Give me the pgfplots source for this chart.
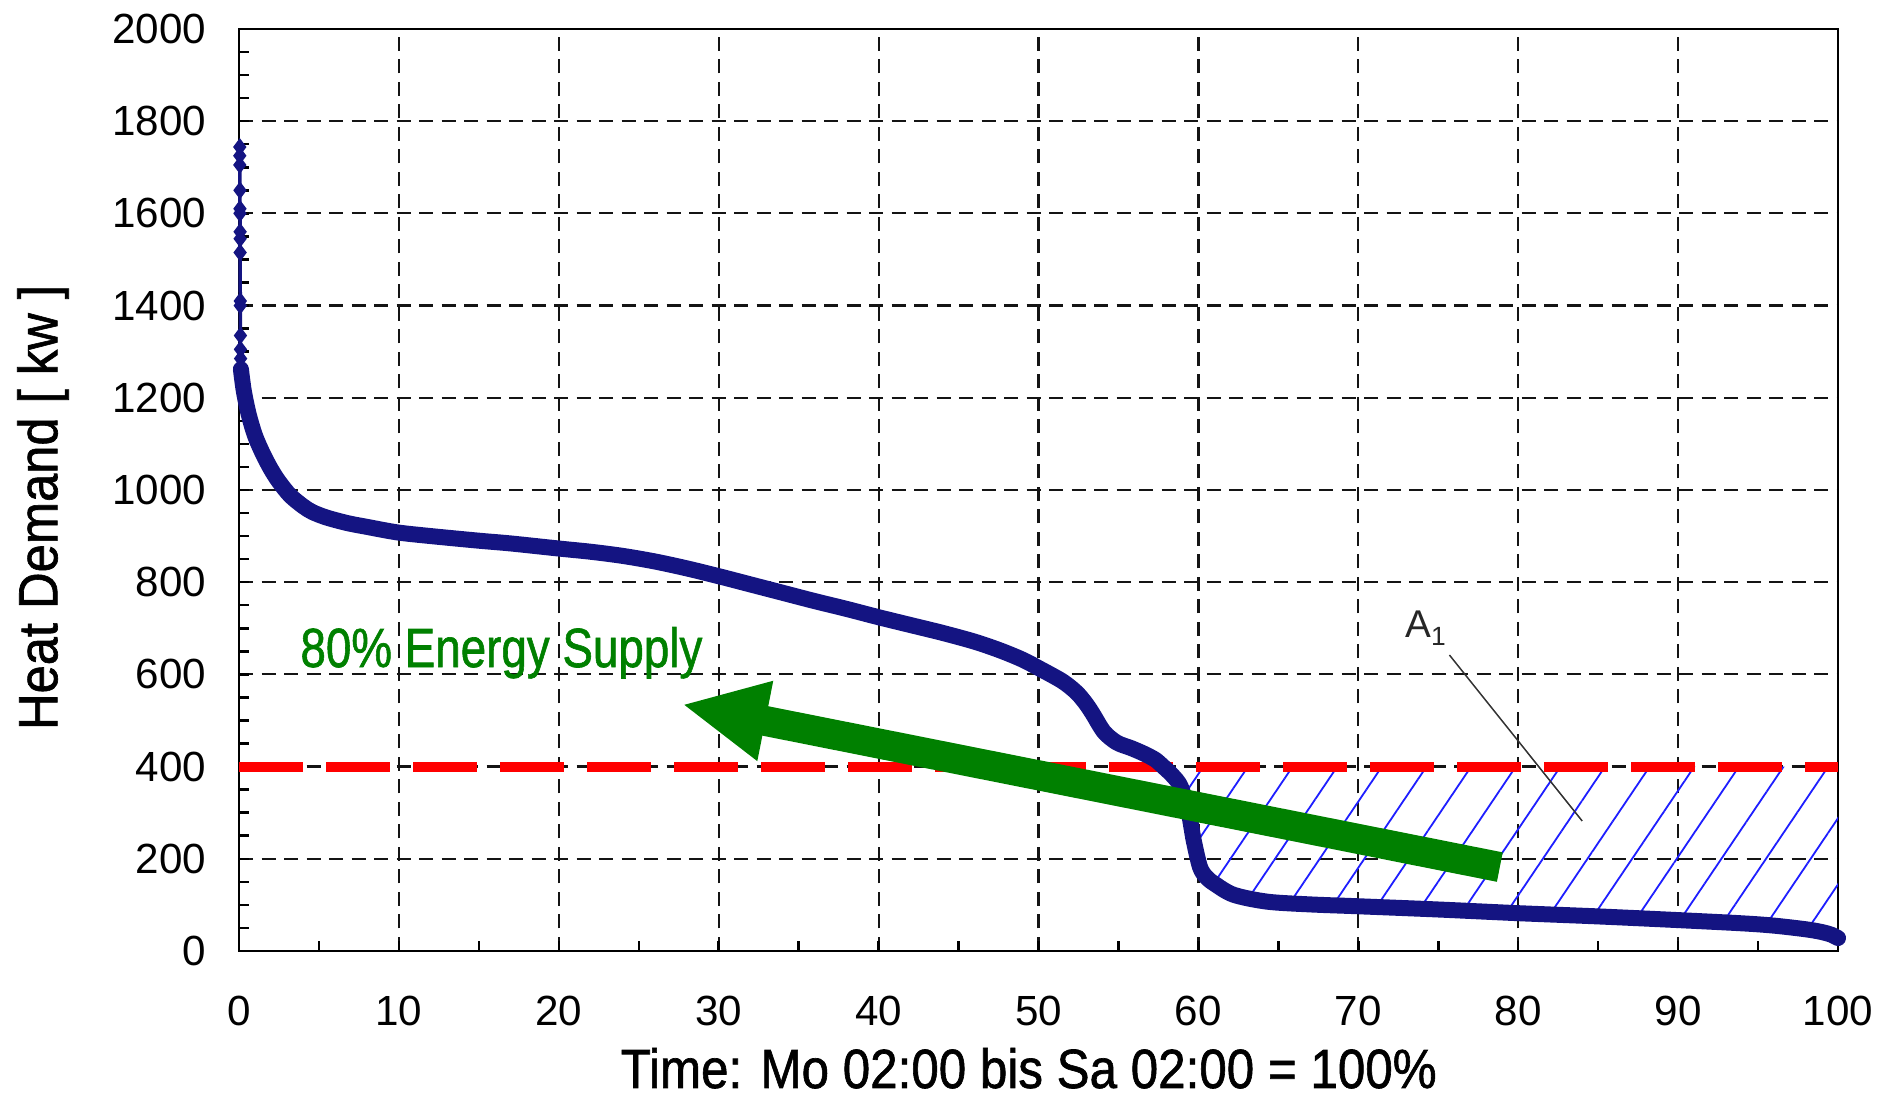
\documentclass[border=0pt]{standalone}
\usepackage{fontspec}
\setmainfont{Liberation Sans}
\newfontfamily\labelfont{Liberation Sans}[FakeBold=1.2]
\usepackage{pgfplots}
\pgfplotsset{compat=1.18}
\usepgfplotslibrary{fillbetween}
\usetikzlibrary{patterns.meta,arrows.meta}
\definecolor{curvecol}{RGB}{20,20,130}
\definecolor{arrowgreen}{RGB}{0,128,0}
\definecolor{gridcol}{RGB}{20,20,20}
\definecolor{hatchcol}{RGB}{30,30,255}
\begin{document}
\begin{tikzpicture}
\begin{axis}[
  at={(0,0)}, anchor=south west,
  scale only axis, width=15.99cm, height=9.22cm,
  xmin=0, xmax=100, ymin=0, ymax=2000,
  xtick={0,10,...,100}, ytick={0,200,...,2000},
  minor x tick num=1, minor y tick num=3,
  tick pos=left, tick align=inside,
  major tick length=1mm, minor tick length=1mm,
  every tick/.style={black, line width=0.25mm},
  axis line style={black, line width=0.25mm},
  grid=major,
  major grid style={gridcol, line width=0.22mm, dash pattern=on 1.4mm off 0.85mm},
  scaled ticks=false,
  /pgf/number format/assume math mode=true,
  /pgf/number format/1000 sep={},
  tick label style={font=\fontsize{12}{14}\selectfont},
  xticklabel style={inner sep=0pt, anchor=north, yshift=-4.4mm},
  yticklabel style={inner sep=0pt, anchor=east, xshift=-3.2mm},
  every axis x label/.style={at={(axis description cs:0,0)}, xshift=38.1mm, yshift=-13.7mm, anchor=base west, inner sep=0pt, font=\labelfont\fontsize{15.7}{18}\selectfont},
  every axis y label/.style={at={(axis description cs:0,0.481)}, xshift=-19.6mm, rotate=90, anchor=center, inner sep=0pt, font=\labelfont\fontsize{15.7}{18}\selectfont},
  xlabel={\resizebox{81.6mm}{\height}{Time: Mo 02:00 bis Sa 02:00 = 100\%}},
  ylabel={\resizebox{44.5mm}{\height}{Heat Demand [ kw ]}},
  set layers,
  clip=false,
]
% threshold line
\addplot[red, line width=1mm, dash pattern=on 6.4mm off 2.3mm, name path=lim] coordinates {(0,400) (100,400)};
% thin initial peak values
\addplot[curvecol, line width=0.35mm, mark=diamond*, mark size=0.6mm, mark options={solid}] coordinates {
(0.05,1744) (0.05,1725) (0.05,1705) (0.06,1650) (0.06,1610) (0.06,1600) (0.07,1560) (0.07,1545) (0.07,1515) (0.08,1410) (0.08,1400) (0.09,1335) (0.09,1305) (0.10,1285) (0.11,1265)};
% load duration curve
\addplot[curvecol, line width=1.6mm, line join=round, line cap=round, smooth, tension=0.5, name path=curve] coordinates {
(0.12,1262) (0.3,1215) (0.6,1165) (1.0,1118) (1.5,1078) (2.0,1045) (2.5,1018) (3.2,988) (4.0,965) (4.6,952) (5.5,940) (6.8,928) (8.0,920) (9.9,908) (12,900) (15,890) (17,884) (20,873) (22,866) (24,857) (26,845) (28,830) (30,813) (32,795) (34,777) (36,759) (38,742) (40,724) (42,707) (44,690) (46,671) (47.6,652) (49,632) (50.1,612) (51.5,585) (52.4,560) (53.0,535) (53.4,514) (54.1,475) (54.9,452) (55.8,440) (56.6,428) (57.3,415) (57.8,400) (58.4,380) (58.9,356) (59.4,299) (59.7,241) (60.1,182) (60.5,160) (61,146) (62.2,122) (64.3,107) (67,101) (70,97) (75,90) (80,82) (85,75) (90,67) (94,60) (96,55) (98,47) (99,41) (99.6,35) (100,28)};
% hatched area A1
\addplot[draw=none, pattern={Lines[angle=56, distance=3.7mm, line width=0.18mm]}, pattern color=hatchcol] fill between[of=curve and lim, soft clip={(axis cs:57.8,0) rectangle (axis cs:100,2000)}];
% annotations
\draw[arrowgreen, line width=3mm, -{Triangle[length=8.5mm,width=7.5mm]}] (axis cs:78.85,182) -- (axis cs:27.7,535);
\node[text=arrowgreen, anchor=base west, inner sep=0pt, font=\labelfont\fontsize{15.7}{18}\selectfont] at (axis cs:3.8,616) {\resizebox{40.2mm}{\height}{80\% Energy Supply}};
\node[text=black!85, anchor=base west, inner sep=0pt, font=\fontsize{11}{13}\selectfont] at (axis cs:72.9,681) {A\raisebox{-0.4ex}{\fontsize{7.5}{9}\selectfont 1}};
\draw[black!80, line width=0.15mm] (axis cs:75.7,642) -- (axis cs:84.0,282);
\end{axis}
\pgfresetboundingbox
\path (-2.39cm,-1.44cm) rectangle (16.46cm,9.51cm);
\end{tikzpicture}
\end{document}
